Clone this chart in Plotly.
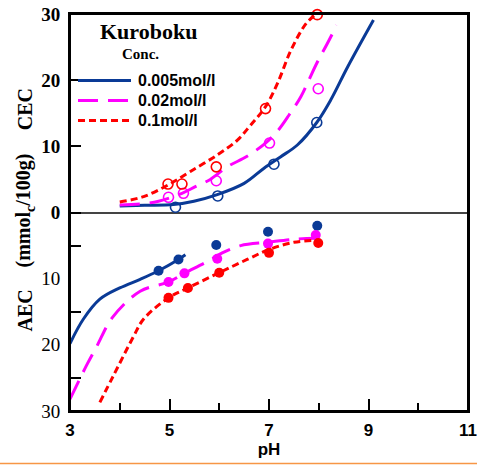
import plotly.graph_objects as go

# ---- measured points (pH, exchange capacity in mmolc/100g) ----
# CEC, open circles
ph_cec_005 = [5.12, 5.97, 7.10, 7.96]
cec_005 = [0.8, 2.5, 7.3, 13.6]
ph_cec_002 = [4.98, 5.28, 5.94, 7.01, 7.99]
cec_002 = [2.3, 2.9, 4.8, 10.5, 18.7]
ph_cec_01 = [4.97, 5.25, 5.94, 6.93, 7.97]
cec_01 = [4.3, 4.3, 6.9, 15.7, 29.9]

# AEC, filled circles (magnitudes, drawn below zero)
ph_aec_005 = [4.78, 5.18, 5.94, 6.98, 7.97]
aec_005 = [8.8, 7.1, 4.9, 2.9, 2.0]
ph_aec_002 = [4.98, 5.30, 5.96, 6.98, 7.94]
aec_002 = [10.5, 9.2, 7.0, 4.7, 3.4]
ph_aec_01 = [4.98, 5.37, 6.00, 7.00, 7.99]
aec_01 = [12.9, 11.4, 9.1, 6.1, 4.6]

# ---- fitted curves ----
ph_cfit_005 = [4.0, 4.5, 5.08, 5.49, 5.96, 6.5, 6.9, 7.23, 7.57, 7.96, 8.24, 8.58, 9.1]
cfit_005 = [1.0, 1.1, 1.2, 1.7, 2.7, 4.4, 6.7, 8.4, 10.2, 13.6, 17.0, 22.0, 29.1]
ph_cfit_002 = [4.0, 4.41, 4.78, 5.25, 5.52, 5.82, 6.16, 6.56, 6.93, 7.17, 7.4, 7.64, 7.8, 7.97, 8.17, 8.36]
cfit_002 = [1.15, 1.3, 1.7, 2.9, 3.9, 5.0, 6.9, 8.5, 10.5, 12.3, 14.7, 17.5, 20.0, 22.7, 25.5, 28.3]
ph_cfit_01 = [4.0, 4.48, 4.98, 5.42, 5.96, 6.36, 6.63, 6.93, 7.17, 7.44, 7.74, 7.95]
cfit_01 = [1.6, 2.4, 4.2, 6.2, 8.7, 10.9, 13.2, 16.0, 19.5, 24.5, 28.5, 30.0]

ph_afit_005 = [3.0, 3.27, 3.6, 4.0, 4.41, 4.78, 5.18, 5.32]
afit_005 = [19.8, 16.1, 13.1, 11.4, 10.1, 8.8, 7.1, 6.4]
ph_afit_002 = [3.0, 3.34, 3.54, 3.85, 4.41, 4.98, 5.3, 5.76, 6.06, 6.43, 6.97, 7.57, 7.95]
afit_002 = [28.2, 23.0, 20.2, 15.9, 11.9, 10.5, 9.2, 7.4, 6.1, 5.0, 4.5, 4.0, 3.9]
ph_afit_01 = [3.6, 3.87, 4.28, 4.48, 4.98, 5.37, 6.0, 6.56, 7.0, 7.5, 7.99]
afit_01 = [28.7, 24.7, 18.7, 16.1, 12.9, 11.4, 9.1, 7.1, 5.6, 4.5, 4.2]

# ---- tick labels ----
x_ticks = [3, 5, 7, 9, 11]
y_label_vals = [30, 20, 10, 0, -10, -20, -30]
y_label_text = ["<b>30</b>", "<b>20</b>", "<b>10</b>", "<b>0</b>", "10", "20", "30"]
y_tick_marks = [20, 10, 0, -5, -15, -25]

series = [
    ("0.005mol/l", "#0a3a96", "solid", ph_cfit_005, cfit_005, ph_afit_005, afit_005,
     ph_cec_005, cec_005, ph_aec_005, aec_005),
    ("0.02mol/l", "#ff00ff", "20px,10px", ph_cfit_002, cfit_002, ph_afit_002, afit_002,
     ph_cec_002, cec_002, ph_aec_002, aec_002),
    ("0.1mol/l", "#ff0000", "7px,4px", ph_cfit_01, cfit_01, ph_afit_01, afit_01,
     ph_cec_01, cec_01, ph_aec_01, aec_01),
]

W, H = 477, 465
L, R, T, B = 70, 9, 14, 54
PW, PH = W - L - R, H - T - B


def px(x):
    return (x - L) / PW


def py(y):
    return (H - B - y) / PH


fig = go.Figure()

for name, col, dash, pcx, pcy, pax, pay, mcx, mcy, max_, may in series:
    fig.add_trace(go.Scatter(x=pcx, y=pcy, mode="lines", line=dict(color=col, width=3, dash=dash, shape="spline"),
                             showlegend=False, cliponaxis=False))
    fig.add_trace(go.Scatter(x=pax, y=[-v for v in pay], mode="lines",
                             line=dict(color=col, width=3, dash=dash, shape="spline"),
                             showlegend=False, cliponaxis=False))

for name, col, dash, pcx, pcy, pax, pay, mcx, mcy, max_, may in series:
    fig.add_trace(go.Scatter(x=mcx, y=mcy, mode="markers",
                             marker=dict(symbol="circle-open", size=10, color=col, line=dict(width=1.6, color=col)),
                             showlegend=False, cliponaxis=False))
    fig.add_trace(go.Scatter(x=max_, y=[-v for v in may], mode="markers",
                             marker=dict(symbol="circle", size=10, color=col),
                             showlegend=False, cliponaxis=False))

# tick marks carried by an overlaid axis
fig.add_trace(go.Scatter(x=[None], y=[None], yaxis="y2", showlegend=False, hoverinfo="skip"))

serif = "Liberation Serif, Times New Roman, serif"
sans = "Liberation Sans, Arial, sans-serif"

fig.update_layout(
    width=W, height=H,
    margin=dict(l=L, r=R, t=T, b=B),
    paper_bgcolor="white", plot_bgcolor="white",
    showlegend=False,
    xaxis=dict(range=[3, 11], tickvals=x_ticks, ticktext=[f"<b>{v}</b>" for v in x_ticks],
               ticks="inside", ticklen=12, tickwidth=2, tickcolor="black",
               minor=dict(ticks="inside", ticklen=8, tickwidth=2, tickcolor="black", dtick=1, tick0=3),
               showline=True, linewidth=2, linecolor="black", mirror=True, showgrid=False, zeroline=False,
               automargin=False,
               tickfont=dict(family=sans, size=17, color="black"), ticklabelstandoff=3,
               title=dict(text="<b>pH</b>", font=dict(family=sans, size=17, color="black"), standoff=0)),
    yaxis=dict(range=[-30, 30], tickvals=y_label_vals, ticktext=y_label_text, ticks="",
               showline=True, linewidth=2, linecolor="black", mirror=True, showgrid=False,
               zeroline=True, zerolinecolor="#444", zerolinewidth=1.5, automargin=False,
               tickfont=dict(family=serif, size=19, color="black"), ticklabelstandoff=4),
    yaxis2=dict(range=[-30, 30], overlaying="y", side="left", tickvals=y_tick_marks, ticks="inside",
                ticklen=11, tickwidth=2, tickcolor="black", showticklabels=False, showline=False,
                showgrid=False, zeroline=False, automargin=False),
)

# plot frame
fig.add_shape(type="rect", xref="paper", yref="paper", x0=0, x1=1, y0=0, y1=1,
              line=dict(color="black", width=2), layer="above")

# y-axis title pieces
title_font = dict(family=serif, size=20, color="black")
for txt, yv in [("<b>CEC</b>", 15.6), ("<b>(mmol<sub>c</sub>/100g)</b>", 0.3), ("<b>AEC</b>", -14.8)]:
    fig.add_annotation(text=txt, x=px(25), y=yv, xref="paper", yref="y", textangle=-90,
                       showarrow=False, font=title_font, xanchor="center", yanchor="middle")

# legend block
fig.add_annotation(text="<b>Kuroboku</b>", x=px(148.5), y=py(32), xref="paper", yref="paper",
                   xanchor="center", yanchor="middle",
                   showarrow=False, font=dict(family=serif, size=22, color="black"))
fig.add_annotation(text="<b>Conc.</b>", x=px(140), y=py(54), xref="paper", yref="paper",
                   xanchor="center", yanchor="middle",
                   showarrow=False, font=dict(family=serif, size=15, color="black"))
for i, (name, col, dash, *_rest) in enumerate(series):
    yy = py(80.5 + 20 * i)
    fig.add_shape(type="line", xref="paper", yref="paper", x0=px(78), x1=px(131), y0=yy, y1=yy,
                  line=dict(color=col, width=3, dash=dash))
    fig.add_annotation(text=f"<b>{name}</b>", x=px(136), y=yy, xref="paper", yref="paper",
                       xanchor="left", yanchor="middle", showarrow=False,
                       font=dict(family=sans, size=16, color="black"))

# bottom rule across the page
fig.add_shape(type="line", xref="paper", yref="paper", x0=px(0), x1=px(W), y0=py(463.5), y1=py(463.5),
              line=dict(color="#f79646", width=1.5))

fig.write_html("out.html")
